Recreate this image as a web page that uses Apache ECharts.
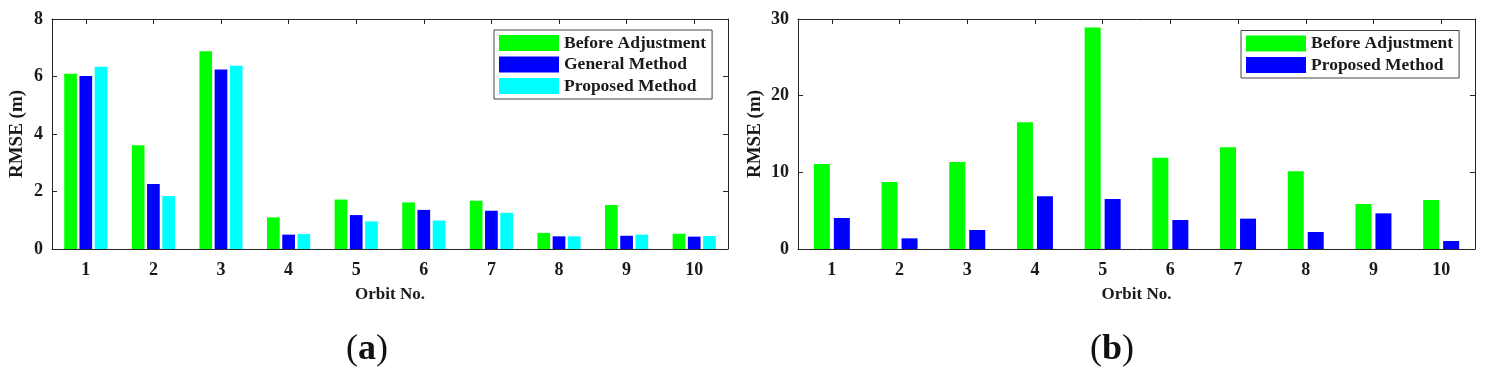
<!DOCTYPE html>
<html>
<head>
<meta charset="utf-8">
<script src="https://cdn.jsdelivr.net/npm/echarts@6/dist/echarts.min.js"></script>
<style>
html,body{margin:0;padding:0;background:#fff;}
#chart{width:1492px;height:376px;}
</style>
</head>
<body>
<div id="chart"></div>
<script>
const categories = ['1','2','3','4','5','6','7','8','9','10'];
const aBefore   = [6.10, 3.61, 6.88, 1.10, 1.72, 1.62, 1.68, 0.56, 1.53, 0.53];
const aGeneral  = [6.02, 2.26, 6.24, 0.50, 1.18, 1.36, 1.33, 0.44, 0.46, 0.43];
const aProposed = [6.34, 1.84, 6.37, 0.52, 0.96, 0.99, 1.26, 0.44, 0.50, 0.45];
const bBefore   = [11.09, 8.74, 11.35, 16.52, 28.9, 11.91, 13.26, 10.13, 5.87, 6.39];
const bProposed = [4.04, 1.39, 2.48, 6.87, 6.52, 3.78, 3.96, 2.22, 4.65, 1.04];
const xName = 'Orbit No.';
const yName = 'RMSE (m)';
const nameBefore = 'Before Adjustment';
const nameGeneral = 'General Method';
const nameProposed = 'Proposed Method';

const GREEN = '#00ff00', BLUE = '#0000ff', CYAN = '#00ffff';
const FONT = '"Liberation Serif", "Times New Roman", serif';
const AX = '#262626';
const tickTxt = {fontFamily: FONT, fontWeight: 'bold', fontSize: 18, color: '#1a1a1a'};
const xNameTxt = {fontFamily: FONT, fontWeight: 'bold', fontSize: 17, color: '#1a1a1a'};
const yNameTxt = {fontFamily: FONT, fontWeight: 'bold', fontSize: 19, color: '#1a1a1a'};

const grids = [
  {left: 52, top: 19, width: 676, height: 230},
  {left: 798, top: 19, width: 677, height: 230}
];

function xAxes(gi) {
  return [
    {type: 'category', gridIndex: gi, data: categories, position: 'bottom',
     name: xName, nameLocation: 'middle', nameGap: 37, nameTextStyle: xNameTxt,
     axisLine: {onZero: false, lineStyle: {color: AX}}, axisTick: {inside: true, alignWithLabel: true, length: 5, lineStyle: {color: AX}},
     axisLabel: Object.assign({margin: 12}, tickTxt)},
    {type: 'category', gridIndex: gi, data: categories, position: 'top',
     axisLine: {show: true, onZero: false, lineStyle: {color: AX}}, axisTick: {show: true, inside: true, alignWithLabel: true, length: 5, lineStyle: {color: AX}},
     axisLabel: {show: false}}
  ];
}
function yAxes(gi, max, interval, gap) {
  return [
    {type: 'value', gridIndex: gi, min: 0, max: max, interval: interval, position: 'left',
     name: yName, nameLocation: 'middle', nameGap: gap, nameTextStyle: yNameTxt,
     axisLine: {show: true, onZero: false, lineStyle: {color: AX}}, axisTick: {show: true, inside: true, length: 5, lineStyle: {color: AX}},
     splitLine: {show: false}, axisLabel: Object.assign({margin: 9}, tickTxt)},
    {type: 'value', gridIndex: gi, min: 0, max: max, interval: interval, position: 'right',
     axisLine: {show: true, onZero: false, lineStyle: {color: AX}}, axisTick: {show: true, inside: true, length: 5, lineStyle: {color: AX}},
     splitLine: {show: false}, axisLabel: {show: false}}
  ];
}

const legendBase = {
  orient: 'vertical', itemWidth: 60, itemHeight: 16, itemGap: 3.5,
  padding: [4, 6, 4, 5], borderColor: '#444', borderWidth: 1, backgroundColor: '#fff',
  selectedMode: false, icon: 'rect',
  textStyle: {fontFamily: FONT, fontWeight: 'bold', fontSize: 17.5, color: '#1a1a1a'}
};

function bar(name, data, color, xi, yi, w, gap) {
  return {name: name, type: 'bar', xAxisIndex: xi, yAxisIndex: yi, data: data,
    barWidth: w, barGap: gap, itemStyle: {color: color}, silent: true, animation: false};
}

const capRich = {
  p: {fontFamily: FONT, fontSize: 36, fill: '#111'},
  b: {fontFamily: FONT, fontSize: 36, fontWeight: 'bold', fill: '#111'}
};

const option = {
  animation: false,
  grid: grids,
  xAxis: [...xAxes(0), ...xAxes(1)],
  yAxis: [...yAxes(0, 8, 2, 25), ...yAxes(1, 30, 10, 33.5)],
  legend: [
    Object.assign({}, legendBase, {left: 494, top: 30,
      data: [{name: nameBefore, itemStyle: {color: GREEN}},
             {name: nameGeneral, itemStyle: {color: BLUE}},
             {name: nameProposed, itemStyle: {color: CYAN}}]}),
    Object.assign({}, legendBase, {left: 1241, top: 30.5,
      data: [{name: nameBefore, itemStyle: {color: GREEN}},
             {name: nameProposed, itemStyle: {color: BLUE}}]})
  ],
  series: [
    bar(nameBefore, aBefore, GREEN, 0, 0, 12.7, '20%'),
    bar(nameGeneral, aGeneral, BLUE, 0, 0, 12.7, '20%'),
    bar(nameProposed, aProposed, CYAN, 0, 0, 12.7, '20%'),
    bar(nameBefore, bBefore, GREEN, 2, 2, 16, '25%'),
    bar(nameProposed, bProposed, BLUE, 2, 2, 16, '25%')
  ],
  graphic: [
    {type: 'text', x: 367, y: 350, style: {text: '{p|(}{b|a}{p|)}', align: 'center', verticalAlign: 'middle', rich: capRich}},
    {type: 'text', x: 1112, y: 350, style: {text: '{p|(}{b|b}{p|)}', align: 'center', verticalAlign: 'middle', rich: capRich}}
  ]
};

const chart = echarts.init(document.getElementById('chart'), null, {renderer: 'canvas'});
chart.setOption(option);
</script>
</body>
</html>
